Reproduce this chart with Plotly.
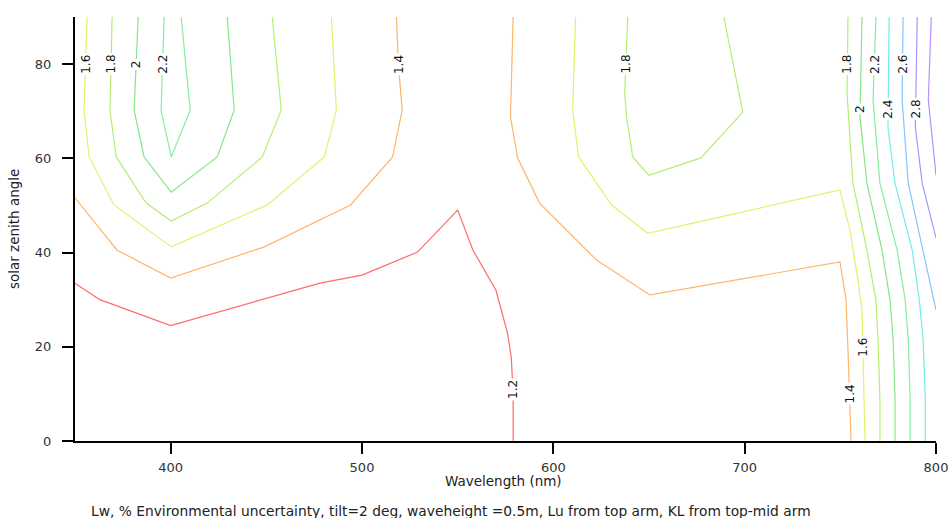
import plotly.graph_objects as go

# ---- contour lines (wavelength nm, solar zenith angle deg) ----
levels = [1.2, 1.4, 1.6, 1.8, 2.0, 2.2, 2.4, 2.6, 2.8, 3.0]
level_colors = ["#ff6a6a", "#ffb46a", "#e4f06a", "#b4ee70", "#84e684",
                "#84eea4", "#74eee4", "#84c4ff", "#9a9aff", "#b490ff"]

c12_x = [350, 363, 400, 478, 500, 529, 550, 558, 570, 576, 578, 579, 579]
c12_y = [33.5, 30, 24.5, 33.5, 35.2, 40.1, 49, 40.5, 32, 23, 17.8, 10, 0]

c14_x = [350, 372, 400, 449, 494, 516, 521, 519, 518, None,
         579, 577.6, 581.3, 592.8, 622.6, 650.4, 749.8, 753, 754, 755, 755.6]
c14_y = [51.6, 40.5, 34.6, 41.2, 50.1, 60.3, 70.2, 80, 90, None,
         90, 68.8, 60.1, 50.5, 38.4, 31.0, 38.0, 29.9, 19.3, 8.7, 0]

c16_x = [356.3, 354.7, 357.4, 370.4, 400.3, 450.5, 480.3, 486.6, 484, None,
         611.6, 610.1, 613.2, 624.2, 630.5, 649.3, 749.8, 755, 759.2, 761.3, 761.8, 762.9]
c16_y = [90, 70.2, 60.3, 50.1, 41.2, 50.1, 60.3, 70.2, 90, None,
         90, 70.2, 60.3, 53.9, 50.1, 44.1, 53.3, 44.8, 34.2, 27.8, 19.3, 0]

c18_x = [369.4, 368.3, 371.5, 387.2, 400.3, 419.1, 447.9, 457.8, 453.1, None,
         638.9, 637.3, 638.3, 641.5, 649.9, 677.1, 699, 689.1, None,
         754, 753.5, 756.6, 763.9, 768.6, 769.7, 770.7, 770.7]
c18_y = [90, 70.2, 60.3, 50.5, 46.7, 50.5, 60.3, 70.2, 90, None,
         90, 73.8, 68.8, 60.3, 56.4, 60.1, 69.8, 90, None,
         90, 73.8, 54.7, 40.5, 29.9, 21.4, 8.7, 0]

c20_x = [383, 380.9, 386.1, 400.3, 424.3, 433.2, 429.6, None,
         761.3, 760.3, 763.9, 771.8, 776, 777.6, 778.6, 778.6]
c20_y = [90, 70.2, 60.3, 52.8, 60.3, 70.2, 90, None,
         90, 68.8, 54.7, 40.5, 29.9, 21.4, 8.7, 0]

c22_x = [396.6, 395, 400.3, 410.2, 405.5, None,
         768.6, 767.1, 770.7, 779.7, 783.9, 785.5, 786.5, 786.5]
c22_y = [90, 70.2, 60.3, 70.2, 90, None,
         90, 72.4, 54.7, 40.5, 29.9, 21.4, 8.7, 0]

c24_x = [775.5, 774.9, 778.6, 787.6, 791.3, 793.3, 794.4, 794.4]
c24_y = [90, 66.6, 54.7, 40.5, 29.9, 21.4, 8.7, 0]

c26_x = [782.8, 782.3, 785.5, 793.3, 800]
c26_y = [90, 72.4, 54.7, 40.5, 27.8]

c28_x = [790.2, 789.2, 792.8, 800]
c28_y = [90, 66.6, 54.7, 43.1]

c30_x = [797.5, 796, 800]
c30_y = [90, 72.4, 56.4]

contour_x = [c12_x, c14_x, c16_x, c18_x, c20_x, c22_x, c24_x, c26_x, c28_x, c30_x]
contour_y = [c12_y, c14_y, c16_y, c18_y, c20_y, c22_y, c24_y, c26_y, c28_y, c30_y]

# ---- contour labels ----
label_text = ["1.6", "1.8", "2", "2.2", "1.4", "1.8", "1.8", "2.2", "2.6",
              "2", "2.4", "2.8", "1.2", "1.6", "1.4"]
label_x = [355.6, 369.0, 382.0, 395.8, 519.3, 638.2, 753.8, 768.0, 782.6,
           760.3, 774.8, 789.3, 578.8, 761.8, 754.8]
label_y = [80, 80, 80, 80, 80, 80, 80, 80, 80,
           70.5, 70.5, 70.5, 11, 20, 10]

x_ticks = [400, 500, 600, 700, 800]
y_ticks = [0, 20, 40, 60, 80]

FONT = "DejaVu Sans"

fig = go.Figure()
for lev, col, xs, ys in zip(levels, level_colors, contour_x, contour_y):
    fig.add_trace(go.Scatter(x=xs, y=ys, mode="lines", name=str(lev),
                             line=dict(color=col, width=1.2),
                             connectgaps=False, hoverinfo="skip"))

for t, lx, ly in zip(label_text, label_x, label_y):
    fig.add_annotation(x=lx, y=ly, xref="x", yref="y", text=t, showarrow=False,
                       textangle=-90, bgcolor="white", borderpad=1,
                       font=dict(family=FONT, size=12, color="#111"))

fig.add_annotation(x=0.498, y=-0.094, xref="paper", yref="paper",
                   xanchor="center", yanchor="middle",
                   text="Wavelength (nm)", showarrow=False,
                   font=dict(family=FONT, size=13.5, color="#222"))
fig.add_annotation(x=0.437, y=-0.165, xref="paper", yref="paper",
                   xanchor="center", yanchor="middle",
                   text="Lw, % Environmental uncertainty, tilt=2 deg, waveheight =0.5m, Lu from top arm, KL from top-mid arm",
                   showarrow=False, font=dict(family=FONT, size=13.8, color="#222"))
fig.add_annotation(x=-0.0708, y=0.5, xref="paper", yref="paper",
                   xanchor="center", yanchor="middle",
                   text="solar zenith angle", showarrow=False, textangle=-90,
                   font=dict(family=FONT, size=13.5, color="#222"))

fig.update_layout(
    width=950, height=518,
    margin=dict(l=75, r=14, t=17, b=77, autoexpand=False),
    paper_bgcolor="white", plot_bgcolor="white",
    showlegend=False,
    font=dict(family=FONT, size=13, color="#333"),
    xaxis=dict(range=[350, 800], tickvals=x_ticks, showgrid=False, zeroline=False,
               showline=True, linecolor="black", linewidth=2, automargin=False,
               ticks="outside", ticklen=11, tickwidth=2, tickcolor="black",
               ticklabelstandoff=2,
               tickfont=dict(family=FONT, size=13, color="#333")),
    yaxis=dict(range=[0, 90], tickvals=y_ticks, showgrid=False, zeroline=False,
               showline=True, linecolor="black", linewidth=2, automargin=False,
               ticks="outside", ticklen=11, tickwidth=2, tickcolor="black",
               ticklabelstandoff=8,
               tickfont=dict(family=FONT, size=13, color="#333")),
)

# remove the page's default body margin so the figure fills the window exactly
fig.write_html("out.html", config={"displayModeBar": False},
               post_script="document.body.style.margin='0';document.body.style.overflow='hidden';")
